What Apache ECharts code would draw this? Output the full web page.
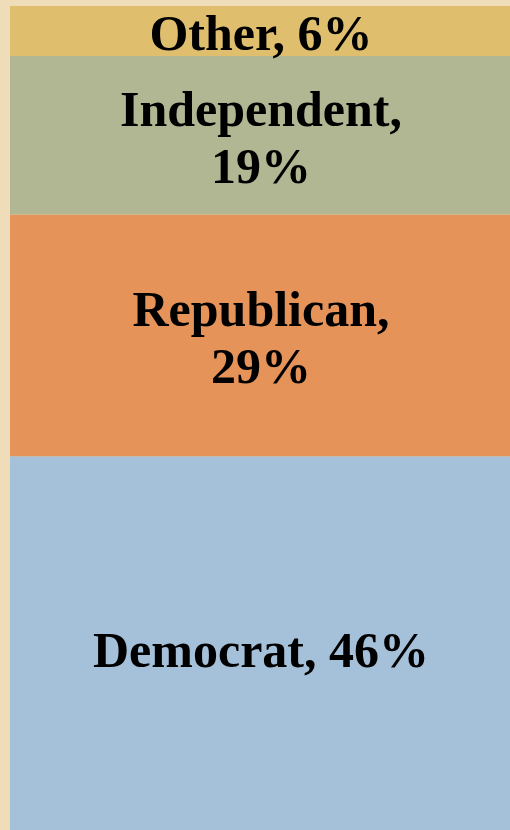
<!DOCTYPE html>
<html>
<head>
<meta charset="utf-8">
<script src="https://cdn.jsdelivr.net/npm/echarts@6/dist/echarts.min.js"></script>
<style>
html,body{margin:0;padding:0;background:#EEDDB8;overflow:hidden;}
#chart{width:510px;height:840px;}
</style>
</head>
<body>
<div id="chart"></div>
<script>
var categories = ['Party'];
var seriesNames = ['Democrat', 'Republican', 'Independent', 'Other'];
var seriesValues = [46, 29, 19, 6];
var seriesColors = ['#A5C1DA', '#E6935A', '#B1B793', '#DFBE6E'];

var chart = echarts.init(document.getElementById('chart'));
var series = seriesNames.map(function (n, i) {
  return {
    name: n,
    type: 'bar',
    stack: 'total',
    barWidth: '100%',
    data: [seriesValues[i]],
    itemStyle: { color: seriesColors[i] },
    label: {
      show: true,
      position: 'inside',
      offset: [1, 6],
      fontFamily: 'Liberation Serif',
      fontWeight: 'bold',
      fontSize: 50,
      lineHeight: 57,
      color: '#000',
      align: 'center',
      formatter: function (p) {
        return p.seriesName + ',' + (p.seriesName.length > 8 ? '\n' : ' ') + p.value + '%';
      }
    }
  };
});
chart.setOption({
  backgroundColor: '#EEDDB8',
  animation: false,
  grid: { left: 10, right: 0, top: 6, bottom: 0 },
  xAxis: { type: 'category', data: categories, show: false },
  yAxis: { type: 'value', min: 0, max: 100, show: false },
  series: series
});
</script>
</body>
</html>
